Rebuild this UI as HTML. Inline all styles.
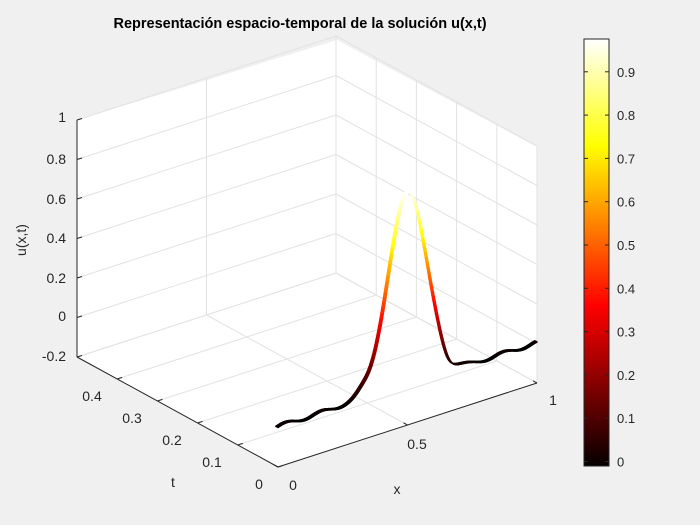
<!DOCTYPE html>
<html><head><meta charset="utf-8">
<style>
html,body{margin:0;padding:0;background:#f0f0f0;}
svg{display:block;font-family:"Liberation Sans",Arial,sans-serif;}
</style></head>
<body>
<svg id="s" width="700" height="525" viewBox="0 0 700 525" xmlns="http://www.w3.org/2000/svg">
<rect width="700" height="525" fill="#f0f0f0"/>
<polygon points="77,120 337,40 337,277 77,357" fill="#ffffff"/>
<polygon points="337,40 537,147 537,383 337,277" fill="#ffffff"/>
<polygon points="77,357 337,277 537,383 278,467" fill="#ffffff"/>
<g id="grid" stroke="#e2e2e2" stroke-width="1" fill="none"></g>
<g id="axes" stroke="#262626" stroke-width="1" fill="none">
<line x1="77" y1="120" x2="77" y2="357"/>
<line x1="77" y1="357" x2="278" y2="467"/>
<line x1="278" y1="467" x2="537" y2="383"/>
</g>
<g id="ticks" stroke="#262626" stroke-width="1"></g>
<g id="surf" fill="none" stroke-linecap="round"></g>
<g fill="#262626" font-size="14">
<text x="66" y="122" text-anchor="end">1</text>
<text x="66" y="164" text-anchor="end">0.8</text>
<text x="66" y="204" text-anchor="end">0.6</text>
<text x="66" y="243" text-anchor="end">0.4</text>
<text x="66" y="283" text-anchor="end">0.2</text>
<text x="66" y="321" text-anchor="end">0</text>
<text x="66" y="361" text-anchor="end">-0.2</text>
<text x="259" y="489" text-anchor="middle">0</text>
<text x="212" y="467" text-anchor="middle">0.1</text>
<text x="172" y="445" text-anchor="middle">0.2</text>
<text x="132" y="423" text-anchor="middle">0.3</text>
<text x="92" y="401" text-anchor="middle">0.4</text>
<text x="293" y="490" text-anchor="middle">0</text>
<text x="417" y="449" text-anchor="middle">0.5</text>
<text x="553" y="405" text-anchor="middle">1</text>
<text x="173" y="487" text-anchor="middle">t</text>
<text x="397" y="494" text-anchor="middle">x</text>
<text x="26" y="240" text-anchor="middle" transform="rotate(-90 26 240)">u(x,t)</text>
<text x="300" y="28" text-anchor="middle" font-weight="bold" font-size="14.5" fill="#000">Representación espacio-temporal de la solución u(x,t)</text>
</g>
<defs>
<linearGradient id="hot" x1="0" y1="1" x2="0" y2="0">
<stop offset="0" stop-color="#050000"/>
<stop offset="0.375" stop-color="#ff0000"/>
<stop offset="0.75" stop-color="#ffff00"/>
<stop offset="1" stop-color="#ffffff"/>
</linearGradient>
</defs>
<rect x="584" y="39" width="25" height="427" fill="url(#hot)" stroke="#262626" stroke-width="1"/>
<g id="cbt" stroke="#262626"></g>
<g id="cbl" fill="#262626" font-size="13"></g>
</svg>
<script>
var NS="http://www.w3.org/2000/svg";
function el(p,t,a){var e=document.createElementNS(NS,t);for(var k in a)e.setAttribute(k,a[k]);p.appendChild(e);return e;}
function P(x,t,z){var X=278+259*x-402*t; var Y=467-84*x-220*t-197.5*(z+0.2); return [X,Y];}
var g=document.getElementById('grid');
function L(p,a,b){el(p,'line',{x1:a[0],y1:a[1],x2:b[0],y2:b[1]});}
for(var i=0;i<=2;i++){var x=i*0.5;L(g,P(x,0.5,-0.2),P(x,0.5,1));}
for(var z=-0.2;z<=1.001;z+=0.2){L(g,P(0,0.5,z),P(1,0.5,z));L(g,P(1,0.5,z),P(1,0,z));}
for(var j=0;j<=5;j++){var t=j*0.1;L(g,P(1,t,-0.2),P(1,t,1));L(g,P(0,t,-0.2),P(1,t,-0.2));}
for(var i=0;i<=2;i++){var x=i*0.5;L(g,P(x,0,-0.2),P(x,0.5,-0.2));}
var tk=document.getElementById('ticks');
for(var z=-0.2;z<=1.001;z+=0.2){var a=P(0,0.5,z);L(tk,a,[a[0]+5,a[1]-1.5]);}
for(var j=0;j<=4;j++){var a=P(0,j*0.1,-0.2);L(tk,a,[a[0]+5,a[1]-1.6]);}
for(var i=0;i<=2;i++){var a=P(i*0.5,0,-0.2);L(tk,a,[a[0]-4,a[1]-2.2]);}
function u(x){
 var v=0.975*Math.exp(-Math.pow((x-0.505)/0.105,2));
 v-=0.035*Math.exp(-Math.pow((x-0.66)/0.035,2));
 v+=0.015*Math.exp(-Math.pow((x-0.33)/0.03,2));
 v+=0.01*Math.sin(2*Math.PI*x/0.14)*(1-Math.exp(-Math.pow((x-0.5)/0.2,2)));
 return v;}
function hot(v){v=Math.max(0,Math.min(1,(v+0.01)/0.985));var r,gg,b;
 r=Math.min(1,v/0.375);gg=Math.max(0,Math.min(1,(v-0.375)/0.375));b=Math.max(0,(v-0.75)/0.25);
 return 'rgb('+Math.round(r*255)+','+Math.round(gg*255)+','+Math.round(b*255)+')';}
var s=document.getElementById('surf');
for(var k=3;k>=0;k--){var tt=k*0.0018;
 var N=300;for(var i=0;i<N;i++){var x0=i/N,x1=(i+1)/N;var a=P(x0,tt,u(x0)),b=P(x1,tt,u(x1));
  el(s,'line',{x1:a[0],y1:a[1],x2:b[0],y2:b[1],stroke:hot(u((x0+x1)/2)),'stroke-width':1.5});}}
var cbt=document.getElementById('cbt'),cbl=document.getElementById('cbl');
for(var k=0;k<=9;k++){var y=461.5-k*43.3;
 el(cbt,'line',{x1:584,y1:y,x2:588,y2:y});el(cbt,'line',{x1:609,y1:y,x2:605,y2:y});
 var tx=el(cbl,'text',{x:617,y:y+5});tx.textContent=(k==0?'0':(k/10).toFixed(1));}
</script>
</body></html>
